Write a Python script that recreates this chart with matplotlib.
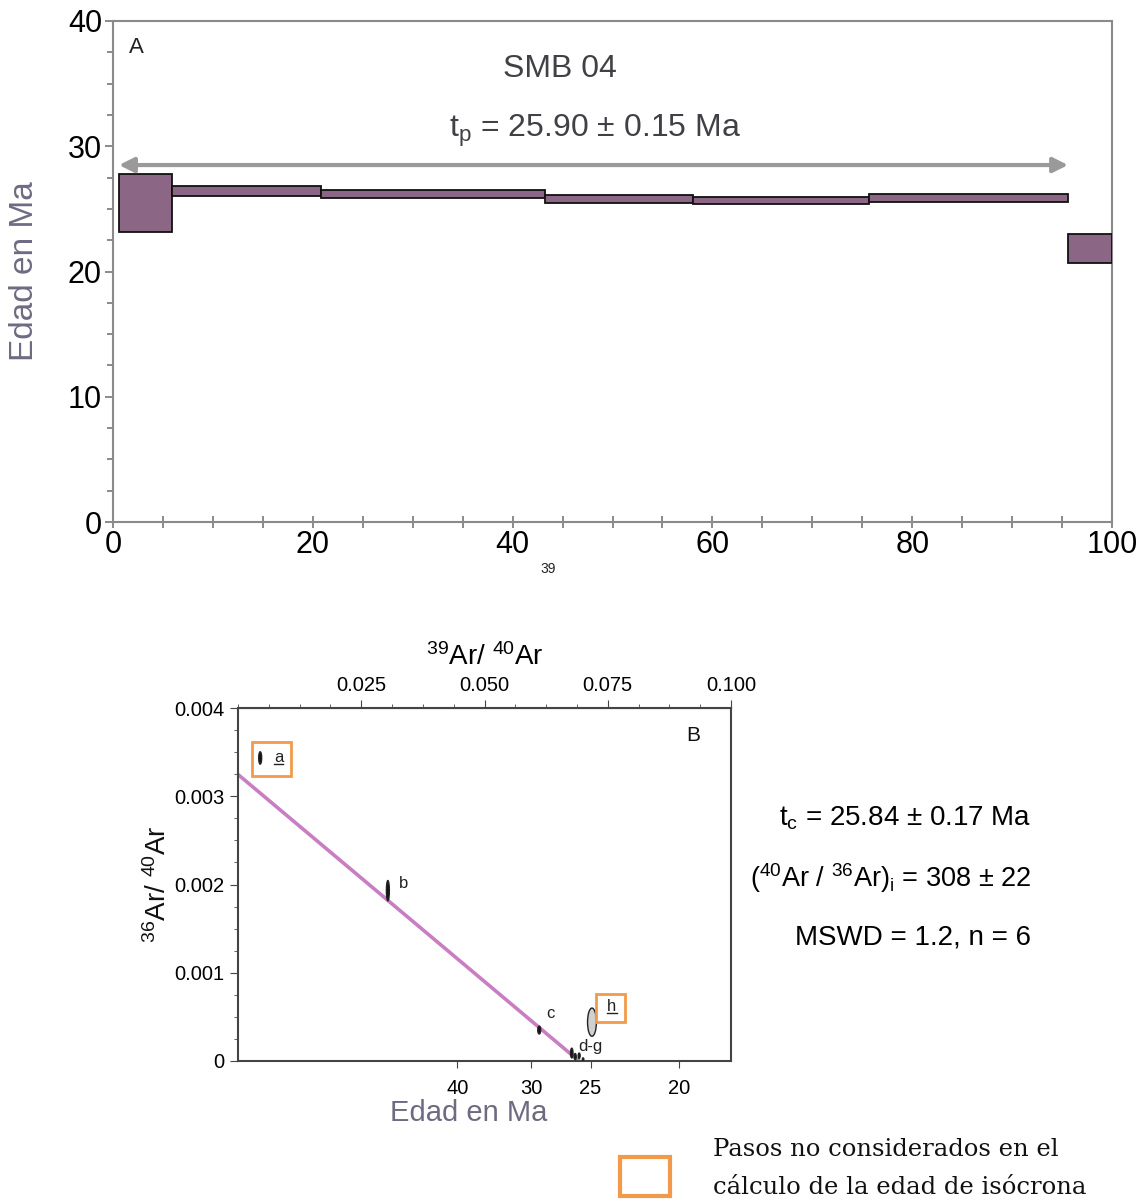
import numpy as np
import matplotlib
matplotlib.use('Agg')
import matplotlib.pyplot as plt
from matplotlib.patches import Ellipse, Rectangle
from matplotlib.lines import Line2D

plt.rcParams['font.family'] = ['Liberation Sans', 'DejaVu Sans']
plt.rcParams['mathtext.fontset'] = 'custom'
plt.rcParams['mathtext.rm'] = 'Liberation Sans'
plt.rcParams['mathtext.it'] = 'Liberation Sans'
plt.rcParams['mathtext.default'] = 'regular'

# --- plateau (age spectrum) steps: cumulative 39Ar edges, age top/bottom
ar39_edges = [0.6, 5.9, 20.8, 43.2, 58.1, 75.7, 95.6, 100.0]
age_top = [27.78, 26.83, 26.51, 26.08, 25.92, 26.21, 22.97]
age_bot = [23.18, 26.03, 25.89, 25.49, 25.39, 25.55, 20.65]
plateau_start, plateau_end, plateau_level = 0.6, 95.6, 28.5

# --- isochron steps (39Ar/40Ar, 36Ar/40Ar) with error ellipse sizes
step_names = ['a', 'b', 'c', 'd', 'e', 'f', 'g', 'h']
x39_40 = [0.0045, 0.0304, 0.0611, 0.0677, 0.0684, 0.0692, 0.0700, 0.0718]
y36_40 = [0.003434, 0.00193, 0.000351, 0.00009, 0.00005, 0.00006, 0.00002, 0.00044]
err_x = [0.0006, 0.0006, 0.0006, 0.0005, 0.0004, 0.0004, 0.0003, 0.0018]
err_y = [0.00014, 0.00023, 0.00009, 0.00011, 0.00007, 0.00006, 0.00003, 0.00032]
excluded = ['a', 'h']

t_iso = 25.84
ar40_36_i = 308.0
age_ticks = [40, 30, 25, 20]
ar_ratio_ticks = [0.025, 0.050, 0.075, 0.100]

lam = 5.543e-4   # 1/Ma
J = 0.000998


def age_to_x(t):
    return J / (np.exp(lam * np.asarray(t, dtype=float)) - 1.0)


fig = plt.figure(figsize=(11.43, 12.02), dpi=100)
W, H = 1143, 1202

# ---------------- panel A: age spectrum ----------------
axA = fig.add_axes([113 / W, 1 - 522 / H, 999 / W, 501 / H])
lefts = np.array(ar39_edges[:-1])
widths = np.diff(ar39_edges)
axA.bar(lefts, np.array(age_top) - np.array(age_bot), bottom=age_bot, width=widths,
        align='edge', color='#8b6785', edgecolor='#111111', linewidth=1.3, zorder=3)
axA.annotate('', xy=(plateau_start, plateau_level), xytext=(plateau_end, plateau_level),
             arrowprops=dict(arrowstyle='<|-|>', color='#9a9a9a', lw=3, mutation_scale=22,
                             shrinkA=0, shrinkB=0))
axA.set_xlim(0, 100)
axA.set_ylim(0, 40)
axA.set_xticks([0, 20, 40, 60, 80, 100])
axA.set_xticks(np.arange(0, 101, 5), minor=True)
axA.set_yticks([0, 10, 20, 30, 40])
axA.set_yticks(np.arange(0, 41, 2.5), minor=True)
for s in axA.spines.values():
    s.set_color('#8a8a8a')
    s.set_linewidth(1.5)
axA.tick_params(axis='both', which='both', color='#777777', labelsize=22, width=1.2)
axA.tick_params(axis='x', which='both', direction='inout', length=8, pad=2)
axA.tick_params(axis='y', which='major', direction='out', length=6, pad=2)
axA.tick_params(axis='y', which='minor', direction='out', length=4)
axA.set_ylabel('Edad en Ma', fontsize=24, color='#6e6a82')
axA.yaxis.set_label_coords(-73 / 999, 0.5)
axA.text(1.6, 37.9, 'A', fontsize=16, color='#222222', va='center')
axA.text(44.7, 36.2, 'SMB 04', fontsize=23, color='#404046', ha='center', va='center')
axA.text(48.2, 31.2, r'$t_{p}$ = 25.90 ± 0.15 Ma', fontsize=23, color='#404046',
         ha='center', va='center')
fig.text(548 / W, 1 - 569 / H, '39', fontsize=10, ha='center', va='center', color='#222222')

# ---------------- panel B: inverse isochron ----------------
axB = fig.add_axes([238 / W, 1 - 1061 / H, 493 / W, 353 / H])
x_int = float(age_to_x(t_iso))
xl = np.linspace(0, x_int, 50)
axB.plot(xl, (1.0 / ar40_36_i) * (1 - xl / x_int), color='#c97ec3', lw=2.6, zorder=2)

for name, x, y, ex, ey in zip(step_names, x39_40, y36_40, err_x, err_y):
    fc = '#d0d0d0' if name == 'h' else '#111111'
    axB.add_patch(Ellipse((x, y), ex, ey, facecolor=fc, edgecolor='#222222', lw=1.0, zorder=3))

lab_off = {'a': (10, 0), 'b': (8, 5), 'c': (5, 12), 'h': (11, 11)}
step_text = {}
for name, x, y in zip(step_names, x39_40, y36_40):
    if name in lab_off:
        dx, dy = lab_off[name]
        step_text[name] = axB.annotate(name, (x, y), xytext=(dx, dy), textcoords='offset points',
                                       fontsize=12, va='center', ha='left', color='#222222',
                                       zorder=4)
axB.annotate('d-g', (x39_40[3], y36_40[3]), xytext=(5, 5), textcoords='offset points',
             fontsize=12, va='center', ha='left', color='#222222')

# orange boxes around steps left out of the isochron
ia, ih = step_names.index('a'), step_names.index('h')
px_x = 0.1 / 493
px_y = 0.004 / 353
axB.add_patch(Rectangle((x39_40[ia] - 8 * px_x, y36_40[ia] - 18 * px_y), 39 * px_x, 34 * px_y,
                        fill=False, edgecolor='#f39a4a', lw=2, zorder=4))
axB.add_patch(Rectangle((x39_40[ih] + 4 * px_x, y36_40[ih]), 29 * px_x, 28 * px_y,
                        fill=False, edgecolor='#f39a4a', lw=2, zorder=4))

axB.text(0.0923, 0.003694, 'B', fontsize=15, ha='center', va='center', color='#111111')
axB.set_xlim(0, 0.1)
axB.set_ylim(0, 0.004)
axB.set_xticks(age_to_x(age_ticks))
axB.set_xticklabels([str(a) for a in age_ticks])
axB.set_yticks([0, 0.001, 0.002, 0.003, 0.004])
axB.set_yticklabels(['0', '0.001', '0.002', '0.003', '0.004'])
axB.set_yticks(np.arange(0, 0.0040001, 0.00025), minor=True)
for s in axB.spines.values():
    s.set_color('#444444')
    s.set_linewidth(1.5)
axB.tick_params(axis='both', which='both', color='#444444', labelsize=14.5, direction='out')
axB.tick_params(axis='x', which='major', length=5, pad=8)
axB.tick_params(axis='y', which='major', length=6)
axB.tick_params(axis='y', which='minor', length=3)
axB.set_xlabel('Edad en Ma', fontsize=21, color='#6e6a82')
axB.xaxis.set_label_coords((469 - 238) / 493, -38 / 353)
axB.set_ylabel(r'$^{36}$Ar/ $^{40}$Ar', fontsize=20, color='#111111')
axB.yaxis.set_label_coords(-66 / 493, 0.5)

sec = axB.secondary_xaxis('top')
sec.set_xticks(ar_ratio_ticks)
sec.set_xticklabels(['0.025', '0.050', '0.075', '0.100'])
sec.set_xticks(np.arange(0, 0.1001, 0.00625), minor=True)
sec.tick_params(axis='x', which='both', color='#444444', labelsize=14.5, direction='out')
sec.tick_params(axis='x', which='major', length=6)
sec.tick_params(axis='x', which='minor', length=3)
sec.spines['top'].set_color('#444444')
sec.set_xlabel(r'$^{39}$Ar/ $^{40}$Ar', fontsize=20, labelpad=8)

# isochron results
fig.text(1031 / W, 1 - 818 / H, r'$t_{c}$ = 25.84 ± 0.17 Ma', fontsize=20, ha='right', va='center')
fig.text(1031 / W, 1 - 878 / H, r'($^{40}$Ar / $^{36}$Ar)$_{i}$ = 308 ± 22', fontsize=19.5,
         ha='right', va='center')
fig.text(1031 / W, 1 - 937 / H, 'MSWD = 1.2, n = 6', fontsize=20, ha='right', va='center')

# legend for the orange boxes
fig.patches.append(Rectangle((620 / W, 1 - 1196 / H), 50 / W, 39 / H, fill=False,
                             edgecolor='#f39a4a', lw=3, transform=fig.transFigure, figure=fig))
fig.text(713 / W, 1 - 1150 / H, 'Pasos no considerados en el', fontsize=17.5,
         family='DejaVu Serif', va='center', color='#111111')
fig.text(713 / W, 1 - 1187 / H, 'cálculo de la edad de isócrona', fontsize=17.5,
         family='DejaVu Serif', va='center', color='#111111')

# underline the labels of excluded steps
fig.canvas.draw()
renderer = fig.canvas.get_renderer()
for name in excluded:
    bb = step_text[name].get_window_extent(renderer)
    (x0, y0), (x1, _) = fig.transFigure.inverted().transform([(bb.x0, bb.y0 + 1), (bb.x1, bb.y0)])
    fig.add_artist(Line2D([x0, x1], [y0, y0], color='#222222', lw=1.0, transform=fig.transFigure))

fig.savefig('out.png', dpi=100)
